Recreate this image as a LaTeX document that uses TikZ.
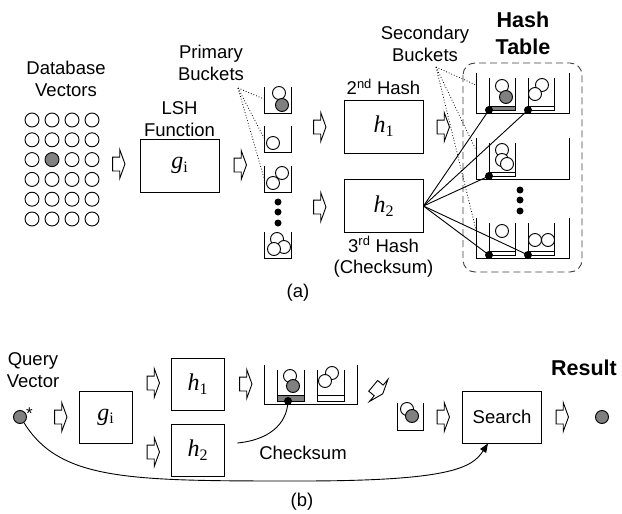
\documentclass[tikz,border=0pt]{standalone}
\usepackage{fontspec}
\setmainfont{Liberation Sans}
\newfontfamily\tnr{Liberation Serif}
\newcommand\fn[2]{{\tnr\itshape #1}\raisebox{-0.3ex}{\tnr\fontsize{16}{16}\selectfont #2}}
\usetikzlibrary{shapes.arrows,arrows.meta}

\tikzset{
  lbl/.style={align=center, font=\fontsize{18.5}{21.5}\selectfont, inner sep=0pt},
  ttl/.style={align=center, font=\fontsize{21.5}{27}\selectfont\bfseries, inner sep=0pt},
  fbox/.style={draw, minimum width=79pt, minimum height=53pt, inner sep=0pt, font=\fontsize{24}{26}\selectfont},
  sbox/.style={fbox, minimum width=53pt, minimum height=52pt},
  vec/.style={circle, draw, fill=white, minimum size=13pt, inner sep=0pt},
  hit/.style={vec, fill=gray},
  dbvec/.style={vec, minimum size=14pt},
  dot/.style={circle, fill=black, minimum size=8pt, inner sep=0pt},
  sdot/.style={circle, fill=black, minimum size=7pt, inner sep=0pt},
  blk/.style={single arrow, draw, fill=white, inner xsep=4.5pt, inner ysep=6.5pt,
    single arrow head extend=7.5pt, single arrow tip angle=140},
  guide/.style={dotted, line width=0.8pt}
}

\begin{document}
\begin{tikzpicture}[x=1pt, y=-1pt, line width=0.9pt]
\useasboundingbox (0,0) rectangle (622,514);

% ---- (a) building the table
\node[lbl] (dbl) at (66,79) {Database\\Vectors};
\foreach \r in {0,...,5}
  \foreach \c in {0,...,3}{
    \ifnum\r\c=21 \node[dbvec, fill=gray] (db\r\c) at (32+20*\c,120+19.8*\r) {};
    \else \node[dbvec] (db\r\c) at (32+20*\c,120+19.8*\r) {}; \fi
  }
\node[blk] (a1) at (117.5,164) {};
\node[fbox] (g) at (179.5,165.5) {\fn{g}{i}};
\node[lbl] (lshl) at (179.5,119) {LSH\\Function};
\node[blk] (a2) at (239,165) {};

% primary buckets
\node[lbl] (pbl) at (211,63) {Primary\\Buckets};
\coordinate (pbt) at (238,88);
\foreach \t/\n in {87/1,126/2,166/3,232/4}{
  \draw (264,\t) |- (291,\t+26) -- (291,\t);
  \coordinate (pb\n) at (264,\t+12);
}
\node[vec] (p1a) at (279,93) {};
\node[hit] (p1b) at (282,105) {};
\node[vec] (p2a) at (273,143) {};
\node[vec] (p3a) at (282,173) {};
\node[vec] (p3b) at (273,183) {};
\node[vec] (p4a) at (277,239) {};
\node[vec] (p4b) at (284,247) {};
\node[vec] (p4c) at (274,249) {};
\foreach \y in {202,212,223} \node[sdot] at (278,\y) {};
\foreach \n in {1,2,3} \draw[guide] (pbt) -- (pb\n);

% second and third hash
\node[blk] (a3) at (318.5,127) {};
\node[blk] (a4) at (318.5,207) {};
\node[fbox] (h1) at (383.5,126.5) {\fn{h}{1}};
\node[fbox] (h2) at (383.5,206) {\fn{h}{2}};
\node[lbl] (h1l) at (383.5,87) {2\textsuperscript{nd} Hash};
\node[lbl] (h2l) at (383.5,257) {3\textsuperscript{rd} Hash\\(Checksum)};
\node[blk] (a5) at (442,127) {};

% hash table
\node[ttl] (htl) at (523,33) {Hash\\Table};
\draw[dash pattern=on 7pt off 4pt, rounded corners=12pt, draw=black!75] (463,63) rectangle (582,272);
\node[lbl] (sbl) at (425,44) {Secondary\\Buckets};
\coordinate (sbt) at (436,67);
\foreach \t/\b/\n in {73/113/1,138/179/2,218/258/3}{
  \draw (476,\t) |- (569,\b) -- (569,\t);
  \coordinate (sb\n) at (476,\t+12);
}
\foreach \x/\t/\b/\f in {489/78/110/gray, 528/78/110/white, 489/143/176/white,
                         489/223/255/white, 528/223/255/white}{
  \draw (\x,\t) -- (\x,\b) -- (\x+26,\b) -- (\x+26,\t);
  \draw[fill=\f] (\x,\b-4) rectangle (\x+26,\b);
}
\node[vec] (t1a) at (502,86) {};
\node[hit] (t1b) at (506,97) {};
\node[vec] (t2a) at (542,85) {};
\node[vec] (t2b) at (535,94) {};
\node[vec] (t3a) at (502,150) {};
\node[vec] (t3b) at (502,160) {};
\node[vec] (t3c) at (507,164) {};
\node[vec] (t4a) at (502,231) {};
\node[vec] (t5a) at (535,240) {};
\node[vec] (t5b) at (548,240) {};
\foreach \y in {190,200,211} \node[sdot] at (520,\y) {};
\foreach \n in {1,2,3} \draw[guide] (sbt) -- (sb\n);
\node[dot] (s1) at (489,110) {};
\node[dot] (s2) at (528,110) {};
\node[dot] (s3) at (489,176) {};
\node[dot] (s4) at (489,255) {};
\node[dot] (s5) at (528,255) {};
\foreach \n in {1,...,5} \draw (h2.east) -- (s\n.center);

\node[lbl] (capa) at (298,293) {(a)};

% ---- (b) query
\node[lbl] (ql) at (33,370) {Query\\Vector};
\node[hit] (q) at (20,417) {};
\node[inner sep=0pt, font=\fontsize{17}{17}\selectfont] (qs) at (29.5,414) {*};
\node[blk] (a6) at (59.5,417) {};
\node[sbox] (gb) at (105.5,417) {\fn{g}{i}};
\node[blk] (a7) at (152,383) {};
\node[blk] (a8) at (152,452) {};
\node[sbox] (h1b) at (197.5,384) {\fn{h}{1}};
\node[sbox] (h2b) at (197.5,450) {\fn{h}{2}};
\node[blk] (a9) at (244.5,384) {};

\draw (264,365) |- (357,404) -- (357,365);
\foreach \x/\f in {277/gray, 317/white}{
  \draw (\x,370) -- (\x,401) -- (\x+27,401) -- (\x+27,370);
  \draw[fill=\f] (\x,395) rectangle (\x+27,401);
}
\node[vec] (c1a) at (290,376) {};
\node[hit] (c1b) at (293,386) {};
\node[vec] (c2a) at (332,373) {};
\node[vec] (c2b) at (325,381) {};
\node[dot] (cb) at (288,401) {};
\coordinate (cs) at ([shift={(13pt,7pt)}]h2b.east);
\draw (cs) .. controls (268,440) and (287,425) .. (cb.center);
\node[lbl] (ckl) at (303,453) {Checksum};

\node[blk, rotate=-40] (a10) at (377,389) {};
\draw (397,403) |- (423,430) -- (423,403);
\node[vec] (m1) at (407,409) {};
\node[hit] (m2) at (412,416) {};
\node[blk] (a11) at (442,417) {};
\node[fbox, minimum height=52pt, font=\fontsize{18.5}{22}\selectfont] (srch) at (502,417) {Search};
\node[blk] (a12) at (561,417) {};
\node[hit] (res) at (602,417) {};
\node[ttl] (resl) at (584,368) {Result};

\draw[-{Triangle[length=9pt,width=7pt]}] (q.-55) .. controls (60,481) and (130,481) .. (300,481)
  .. controls (450,481) and (472,468) .. ([xshift=-14pt]srch.south);

\node[lbl] (capb) at (302,502) {(b)};
\end{tikzpicture}
\end{document}
